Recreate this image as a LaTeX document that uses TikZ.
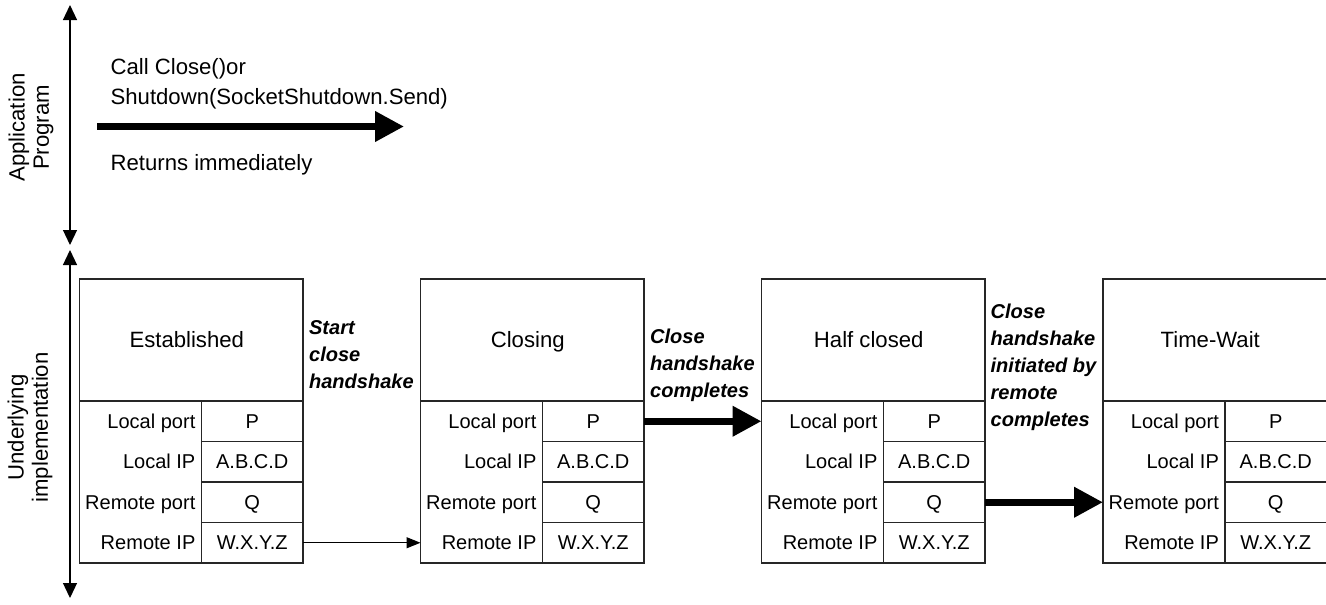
\documentclass[tikz,border=0pt]{standalone}
\usepackage{fontspec}
\setmainfont{Liberation Sans}
\usetikzlibrary{arrows.meta}

\begin{document}
\begin{tikzpicture}[>={Triangle[length=0.3cm,width=0.28cm]}, line width=0.7pt,
  font=\fontsize{12.6}{15.4}\selectfont,
  head/.style={draw=black!85, outer sep=0pt, text height=9pt, text depth=0pt},
  cell/.style={draw=black!85, outer sep=0pt, inner sep=0pt, text height=8.2pt, text depth=0pt,
    font=\fontsize{11.4}{14}\selectfont},
  key/.style={anchor=east, inner xsep=0.11cm, inner ysep=0pt, text height=8.2pt, text depth=0pt,
    font=\fontsize{11.4}{14}\selectfont},
  note/.style={align=left, anchor=west, inner sep=0pt, font=\fontsize{11.4}{15.4}\selectfont\bfseries\itshape},
  side/.style={rotate=90, align=center, font=\fontsize{12.6}{13.7}\selectfont},
  thick arrow/.style={line width=0.14cm, -{Triangle[length=0.58cm,width=0.58cm]}},
  thin arrow/.style={-{Triangle[length=0.28cm,width=0.22cm]}}]
  \useasboundingbox (0,0) rectangle (26.52,12.08);
  % the two layers
  \coordinate (app-top) at (1.40,11.98);
  \coordinate (app-bot) at (1.40,7.18);
  \coordinate (impl-top) at (1.40,7.08);
  \coordinate (impl-bot) at (1.40,0.12);
  \draw[<->] (app-bot) -- (app-top);
  \draw[<->] (impl-bot) -- (impl-top);
  \node[side] (app-lab) at (0.62,9.53) {Application\\Program};
  \node[side] (impl-lab) at (0.60,3.53) {Underlying\\implementation};
  % application call
  \coordinate (call-a) at (1.94,9.55);
  \coordinate (call-b) at (8.08,9.55);
  \draw[thick arrow] (call-a) -- (call-b);
  \node[anchor=base west, inner sep=0pt] (call-txt) at (2.2,10.6) {Call Close()or};
  \node[anchor=base west, inner sep=0pt] (call-txt2) at (2.2,10.0) {Shutdown(SocketShutdown.Send)};
  \node[anchor=base west, inner sep=0pt] (ret-txt) at (2.2,8.68) {Returns immediately};
  % socket states
  \foreach \n/\x/\lab in {est/1.59/Established, clo/8.41/Closing, half/15.23/Half closed, tw/22.06/Time-Wait} {
    \node[head, anchor=north west, minimum width=4.47cm, minimum height=2.44cm] (\n-head) at (\x,6.5) {\lab\hspace*{0.18cm}};
    \node[cell, anchor=north west, minimum width=2.44cm, minimum height=3.24cm] (\n-keys) at (\x,4.06) {};
    \foreach \key/\val [count=\i] in {Local port/P, Local IP/A.B.C.D, Remote port/Q, Remote IP/W.X.Y.Z} {
      \node[cell, minimum width=2.03cm, minimum height=0.81cm] (\n-v\i) at (\x+3.455,4.465-0.81*\i) {\val};
      \node[key] (\n-k\i) at (\n-v\i.west) {\key};
    }
  }
  \node[note] (start-note) at (6.17,4.98) {Start\\close\\handshake};
  \node[note] (done-note) at (12.99,4.77) {Close\\handshake\\completes};
  \node[note] (remote-note) at (19.80,4.74) {Close\\handshake\\initiated by\\remote\\completes};
  \draw[thin arrow] (est-v4.east) -- (est-v4.east -| clo-keys.west);
  \draw[thick arrow] (clo-v1.east) -- (clo-v1.east -| half-keys.west);
  \draw[thick arrow] (half-v3.east) -- (half-v3.east -| tw-keys.west);
\end{tikzpicture}
\end{document}
